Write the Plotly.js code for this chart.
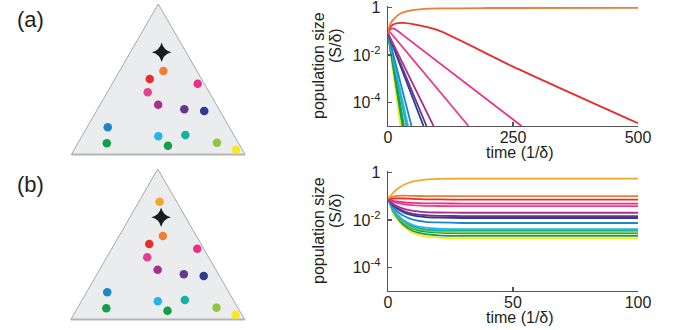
<!DOCTYPE html>
<html>
<head>
<meta charset="utf-8">
<script src="https://cdn.plot.ly/plotly-3.0.1.min.js"></script>
<style>html,body{margin:0;padding:0;background:#fff}#chart{width:673px;height:330px}</style>
</head>
<body>
<div id="chart"></div>
<script>
// ---------- species (order shared by dots and curves) ----------
const speciesNames = ['gold','orange','red','pinkR','pinkL','magenta','purple','navy','blue','lightblue','teal','greenL','greenM','lightgreen','yellow'];
const speciesColors = ['#f3a62e','#f07d32','#ea2b2b','#ee2c8c','#e8408f','#ac2f8e','#63398f','#2e3990','#1c86c6','#27b4ea','#14b1a4','#10a04b','#139f4a','#8dc63f','#fce61e'];

// ternary positions of the species (a: top, b: bottom-left, c: bottom-right)
const ternA = [0.783,0.555,0.502,0.470,0.413,0.331,0.300,0.289,0.181,0.121,0.130,0.074,0.058,0.078,0.032];
const ternB = [0.098,0.193,0.298,0.038,0.354,0.335,0.200,0.091,0.700,0.439,0.279,0.759,0.415,0.123,0.036];
const ternC = [0.119,0.252,0.200,0.492,0.233,0.334,0.500,0.620,0.119,0.440,0.591,0.167,0.527,0.799,0.932];
// supply point (star)
const starA = [0.679], starB = [0.141], starC = [0.180];

// ---------- panel (a) time courses (gold species absent) ----------
const timeA = {
  orange:    [0, 2, 5, 10, 25, 50, 100, 200, 500],
  red:       [0, 5, 10, 20, 30, 50, 100, 250, 500],
  pinkR:     [0, 3, 8, 15, 30, 267],
  pinkL:     [0, 4, 10, 161],
  magenta:   [0, 5, 91],
  purple:    [0, 5, 77],
  navy:      [0, 5, 71],
  blue:      [0, 3, 47],
  lightblue: [0, 3, 40],
  teal:      [0, 3, 37],
  greenL:    [0, 3, 32],
  greenM:    [0, 3, 29],
  lightgreen:[0, 3, 30],
  yellow:    [0, 3, 25]
};
const popA = {
  orange:    [0.08, 0.14, 0.21, 0.30, 0.56, 0.78, 0.91, 0.95, 0.97],
  red:       [0.08, 0.15, 0.19, 0.22, 0.225, 0.20, 0.11, 0.0032, 0.000013],
  pinkR:     [0.08, 0.11, 0.13, 0.12, 0.068, 0.00001],
  pinkL:     [0.08, 0.09, 0.065, 0.00001],
  magenta:   [0.08, 0.05, 0.00001],
  purple:    [0.08, 0.045, 0.00001],
  navy:      [0.08, 0.043, 0.00001],
  blue:      [0.08, 0.044, 0.00001],
  lightblue: [0.08, 0.038, 0.00001],
  teal:      [0.08, 0.036, 0.00001],
  greenL:    [0.08, 0.032, 0.00001],
  greenM:    [0.08, 0.029, 0.00001],
  lightgreen:[0.08, 0.030, 0.00001],
  yellow:    [0.08, 0.025, 0.00001]
};

// ---------- panel (b) time courses ----------
const timeB = [0, 2, 4, 6, 10, 15, 20, 30, 100];
const popB = {
  gold:      [0.08, 0.139, 0.213, 0.290, 0.418, 0.502, 0.533, 0.556, 0.556],
  orange:    [0.08, 0.095, 0.104, 0.105, 0.103, 0.101, 0.100, 0.100, 0.100],
  red:       [0.08, 0.080, 0.081, 0.080, 0.077, 0.074, 0.073, 0.072, 0.072],
  pinkR:     [0.08, 0.064, 0.059, 0.0555, 0.0518, 0.0499, 0.0493, 0.049, 0.049],
  pinkL:     [0.08, 0.0589, 0.0515, 0.0467, 0.0416, 0.0393, 0.0385, 0.038, 0.038],
  magenta:   [0.08, 0.048, 0.0366, 0.0301, 0.0239, 0.0213, 0.0205, 0.020, 0.020],
  purple:    [0.08, 0.0433, 0.0308, 0.0242, 0.0181, 0.0157, 0.0149, 0.0145, 0.0145],
  navy:      [0.08, 0.0407, 0.028, 0.0214, 0.0155, 0.0132, 0.0125, 0.012, 0.012],
  blue:      [0.08, 0.0349, 0.0216, 0.0154, 0.0102, 0.0083, 0.0078, 0.0074, 0.0074],
  lightblue: [0.08, 0.0288, 0.0158, 0.0102, 0.0061, 0.0047, 0.0043, 0.0041, 0.0041],
  teal:      [0.08, 0.0274, 0.0145, 0.0092, 0.0053, 0.0040, 0.0037, 0.0035, 0.0035],
  greenL:    [0.08, 0.0252, 0.0126, 0.0077, 0.0043, 0.0032, 0.0029, 0.0027, 0.0027],
  greenM:    [0.08, 0.0233, 0.0111, 0.0065, 0.0034, 0.0025, 0.00224, 0.0021, 0.0021],
  lightgreen:[0.08, 0.0260, 0.0132, 0.0082, 0.0047, 0.0036, 0.0032, 0.0030, 0.0030],
  yellow:    [0.08, 0.0216, 0.0098, 0.0056, 0.0028, 0.0020, 0.0018, 0.00166, 0.00166]
};

// ---------- axis tick labels and texts ----------
const yTickVals = [1e-4, 1e-2, 1];
const yTickText = ['10<sup>-4</sup>', '10<sup>-2</sup>', '1'];
const xTickValsA = [0, 250, 500];
const xTickValsB = [0, 50, 100];
const yTitleLines = ['population size', '(S/δ)'];
const xTitle = 'time (1/δ)';
const panelLabels = ['(a)', '(b)'];

// ---------- build ----------
const W = 673, H = 330;
const px = v => v / W;
const py = v => 1 - v / H;
const FONT = 'Liberation Sans, Arial, Helvetica, sans-serif';
const TXT = '#231f20';

const traces = [];
function dots(ternary, from) {
  const idx = speciesNames.map((_, i) => i).filter(i => i >= from);
  traces.push({
    type: 'scatterternary', subplot: ternary, mode: 'markers',
    a: idx.map(i => ternA[i]), b: idx.map(i => ternB[i]), c: idx.map(i => ternC[i]),
    marker: {size: 8.5, color: idx.map(i => speciesColors[i]), line: {width: 0}},
    hoverinfo: 'skip', showlegend: false
  });
  traces.push({
    type: 'scatterternary', subplot: ternary, mode: 'markers',
    a: starA, b: starB, c: starC,
    marker: {size: 14, symbol: 'star-diamond', color: '#1b1b1b', line: {width: 0}},
    hoverinfo: 'skip', showlegend: false
  });
}
dots('ternary', 1);
dots('ternary2', 0);

const orderA = ['yellow','lightgreen','greenM','greenL','teal','lightblue','blue','navy','purple','magenta','pinkL','pinkR','red','orange'];
orderA.forEach(n => {
  traces.push({
    type: 'scatter', mode: 'lines', xaxis: 'x', yaxis: 'y',
    x: timeA[n], y: popA[n], line: {color: speciesColors[speciesNames.indexOf(n)], width: 1.8, shape: 'spline', smoothing: 0.6},
    hoverinfo: 'skip', showlegend: false
  });
});
const orderB = ['yellow','greenM','greenL','lightgreen','teal','lightblue','blue','navy','purple','magenta','pinkL','pinkR','red','orange','gold'];
orderB.forEach(n => {
  traces.push({
    type: 'scatter', mode: 'lines', xaxis: 'x2', yaxis: 'y2',
    x: timeB, y: popB[n], line: {color: speciesColors[speciesNames.indexOf(n)], width: 1.8, shape: 'spline', smoothing: 0.6},
    hoverinfo: 'skip', showlegend: false
  });
});

function tern(domX, domY) {
  const ax = (lw) => ({showgrid: false, showticklabels: false, ticks: '', showline: true,
    linecolor: '#a9a9a9', linewidth: lw, title: {text: ''}, layer: 'below traces'});
  return {domain: {x: domX, y: domY}, bgcolor: '#ebeced', sum: 1,
    aaxis: ax(1), baxis: Object.assign(ax(2.2), {linecolor: '#b4b4b4'}), caxis: ax(1)};
}
function xax(vals, rng, anchor) {
  return {domain: [px(388), px(638)], range: rng, anchor: anchor, tickvals: vals,
    ticks: 'inside', ticklen: 4, tickwidth: 1.2, tickcolor: '#555', ticklabelstandoff: -4,
    ticklabeloverflow: 'allow',
    showline: true, linecolor: '#555', linewidth: 1.4, showgrid: false, zeroline: false,
    tickfont: {family: FONT, size: 16, color: TXT}, fixedrange: true};
}
function yax(top, bottom, anchor) {
  return {domain: [py(bottom), py(top)], type: 'log', range: [-5, 0.063], anchor: anchor,
    tickvals: yTickVals, ticktext: yTickText,
    ticks: 'inside', ticklen: 4, tickwidth: 1.2, tickcolor: '#555', ticklabelstandoff: 3,
    ticklabeloverflow: 'allow',
    showline: true, linecolor: '#555', linewidth: 1.4, showgrid: false, zeroline: false,
    tickfont: {family: FONT, size: 16, color: TXT}, fixedrange: true};
}

const ann = [];
[0, 165].forEach((dy, k) => {
  ann.push({text: panelLabels[k], x: px(30), y: py(19 + dy), xref: 'paper', yref: 'paper',
    showarrow: false, xanchor: 'center', yanchor: 'middle', font: {family: FONT, size: 22, color: TXT}});
  ann.push({text: yTitleLines[0], x: px(319), y: py(66 + dy), xref: 'paper', yref: 'paper', textangle: -90,
    showarrow: false, xanchor: 'center', yanchor: 'middle', font: {family: FONT, size: 16, color: TXT}});
  ann.push({text: yTitleLines[1], x: px(335), y: py(46 + dy), xref: 'paper', yref: 'paper', textangle: -90,
    showarrow: false, xanchor: 'center', yanchor: 'middle', font: {family: FONT, size: 16, color: TXT}});
  ann.push({text: xTitle, x: px(520), y: py(152 + dy), xref: 'paper', yref: 'paper',
    showarrow: false, xanchor: 'center', yanchor: 'middle', font: {family: FONT, size: 16, color: TXT}});
});

const layout = {
  width: W, height: H, margin: {l: 0, r: 0, t: 0, b: 0},
  paper_bgcolor: '#ffffff', plot_bgcolor: 'rgba(0,0,0,0)', showlegend: false,
  font: {family: FONT, color: TXT},
  ternary: tern([px(71), px(245.5)], [py(154.5), py(4)]),
  ternary2: tern([px(70.5), px(245)], [py(319.5), py(169)]),
  xaxis: xax(xTickValsA, [0, 500], 'y'),
  yaxis: yax(6, 126, 'x'),
  xaxis2: xax(xTickValsB, [0, 100], 'y2'),
  yaxis2: yax(171, 291, 'x2'),
  annotations: ann
};

Plotly.newPlot('chart', traces, layout, {displayModeBar: false, staticPlot: true});
</script>
</body>
</html>
